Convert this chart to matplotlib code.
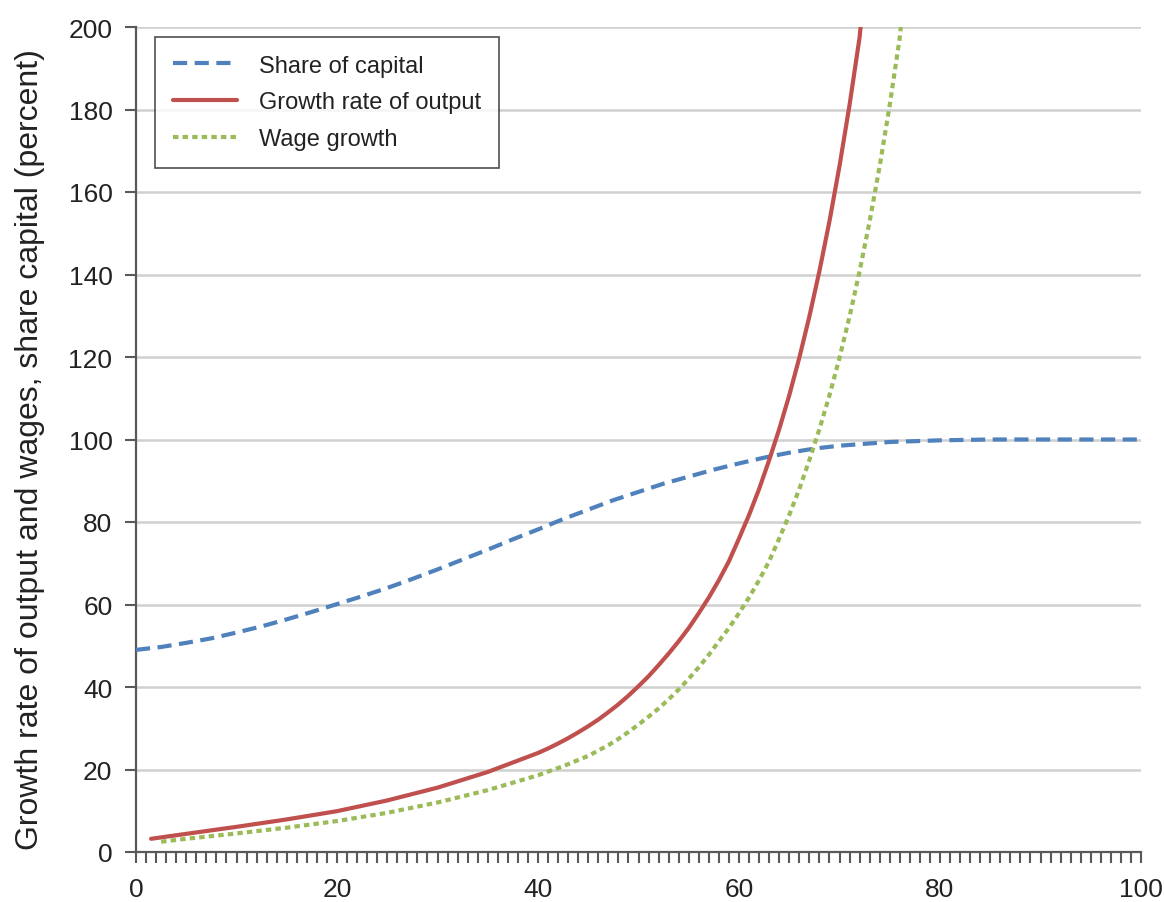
import matplotlib
matplotlib.use("Agg")
import matplotlib.pyplot as plt
from matplotlib.ticker import MultipleLocator, FixedLocator

# ---- data ----
share_x = [0, 2.5, 5, 7.5, 10, 12.5, 15, 17.5, 20, 22.5, 25, 27.5, 30, 32.5, 35, 37.5, 40,
           42.5, 45, 47.5, 50, 52.5, 55, 57.5, 60, 62.5, 65, 67.5, 70, 75, 80, 85, 90, 95, 100]
share_y = [49.0, 49.7, 50.7, 51.8, 53.2, 54.7, 56.4, 58.2, 60.1, 62.0, 64.0, 66.2, 68.5,
           70.9, 73.3, 75.8, 78.2, 80.7, 83.0, 85.3, 87.3, 89.3, 91.0, 92.7, 94.2, 95.6,
           96.8, 97.8, 98.5, 99.4, 99.8, 100, 100, 100, 100]

output_x = [1.5, 5, 10, 15, 20, 25, 30, 35, 40, 41, 42, 43, 44, 45, 46, 47, 48, 49, 50, 51,
            52, 53, 54, 55, 56, 57, 58, 59, 60, 61, 62, 63, 64, 65, 66, 67, 68, 69, 70,
            71, 72, 72.1]
output_y = [3.2, 4.4, 6.1, 7.9, 9.9, 12.5, 15.6, 19.4, 24.0, 25.1, 26.3, 27.6, 29.0, 30.5,
            32.1, 33.9, 35.8, 37.9, 40.2, 42.6, 45.3, 48.1, 51.1, 54.3, 57.9, 61.7, 65.9,
            70.5, 76.0, 81.7, 88.0, 95.0, 102.5, 110.7, 119.8, 129.8, 140.8, 152.9, 166.3,
            181.1, 197.5, 200]

wage_x = [2.5, 5, 10, 15, 20, 25, 30, 35, 40, 42.5, 45, 46, 47, 48, 49, 50, 51, 52, 53, 54,
          55, 56, 57, 58, 59, 60, 61, 62, 63, 64, 65, 66, 67, 68, 69, 70, 71, 72, 73, 74,
          75, 76, 76.1]
wage_y = [2.5, 3.2, 4.5, 5.9, 7.5, 9.5, 12.0, 15.0, 18.6, 20.8, 23.3, 24.6, 25.9, 27.4,
          29.1, 30.9, 32.8, 34.8, 37.0, 39.4, 42.0, 44.8, 47.8, 51.1, 54.3, 57.9, 61.7,
          65.9, 70.5, 76.0, 81.7, 88.0, 95.0, 102.5, 110.7, 119.8, 129.8, 140.8, 152.9,
          166.3, 181.1, 197.5, 200]

series_labels = ["Share of capital", "Growth rate of output", "Wage growth"]
y_label = "Growth rate of output and wages, share capital (percent)"
x_major = [0, 20, 40, 60, 80, 100]
y_major = [0, 20, 40, 60, 80, 100, 120, 140, 160, 180, 200]

# ---- figure ----
plt.rcParams['font.family'] = ['Liberation Sans', 'DejaVu Sans']
fig = plt.figure(figsize=(11.64, 9.03), dpi=100)
ax = fig.add_axes([136/1164, 1-853/903, (1141-136)/1164, (853-28)/903])

blue = "#4F81BD"
red = "#C0504D"
green = "#9BBB59"
axis_col = "#595959"
text_col = "#222222"

ax.set_xlim(0, 100)
ax.set_ylim(0, 200)

for y in y_major[1:]:
    ax.axhline(y, color="#D0D0D0", lw=1.8, zorder=0)

ax.plot(share_x, share_y, color=blue, lw=3, dashes=(3.4, 1.8), label=series_labels[0],
        dash_capstyle='butt', zorder=3)
ax.plot(output_x, output_y, color=red, lw=3, label=series_labels[1],
        solid_capstyle='round', solid_joinstyle='round', zorder=3)
ax.plot(wage_x, wage_y, color=green, lw=3, dashes=(1.3, 1.0), label=series_labels[2],
        dash_capstyle='butt', zorder=3)

for s in ["top", "right"]:
    ax.spines[s].set_visible(False)
for s in ["left", "bottom"]:
    ax.spines[s].set_color(axis_col)
    ax.spines[s].set_linewidth(1.6)

ax.xaxis.set_major_locator(FixedLocator(x_major))
ax.xaxis.set_minor_locator(MultipleLocator(1))
ax.yaxis.set_major_locator(FixedLocator(y_major))
ax.tick_params(axis='x', which='both', direction='out', length=8, width=1.5,
               color=axis_col)
ax.tick_params(axis='x', which='major', labelsize=19, pad=10, labelcolor=text_col)
ax.tick_params(axis='y', which='major', direction='out', length=8, width=1.5,
               color=axis_col, labelsize=19, pad=9, labelcolor=text_col)

ax.set_ylabel(y_label, fontsize=23, color=text_col)
ax.yaxis.set_label_coords(-0.091, 0.489)

leg = ax.legend(loc='upper left', bbox_to_anchor=(0.019, 0.988), borderaxespad=0,
                fontsize=17, frameon=True, fancybox=False, handlelength=2.7,
                handletextpad=0.95, labelspacing=0.62, borderpad=0.75)
leg.get_frame().set_edgecolor(text_col)
leg.get_frame().set_linewidth(1.2)
for t in leg.get_texts():
    t.set_color(text_col)

fig.savefig("out.png", dpi=100)
